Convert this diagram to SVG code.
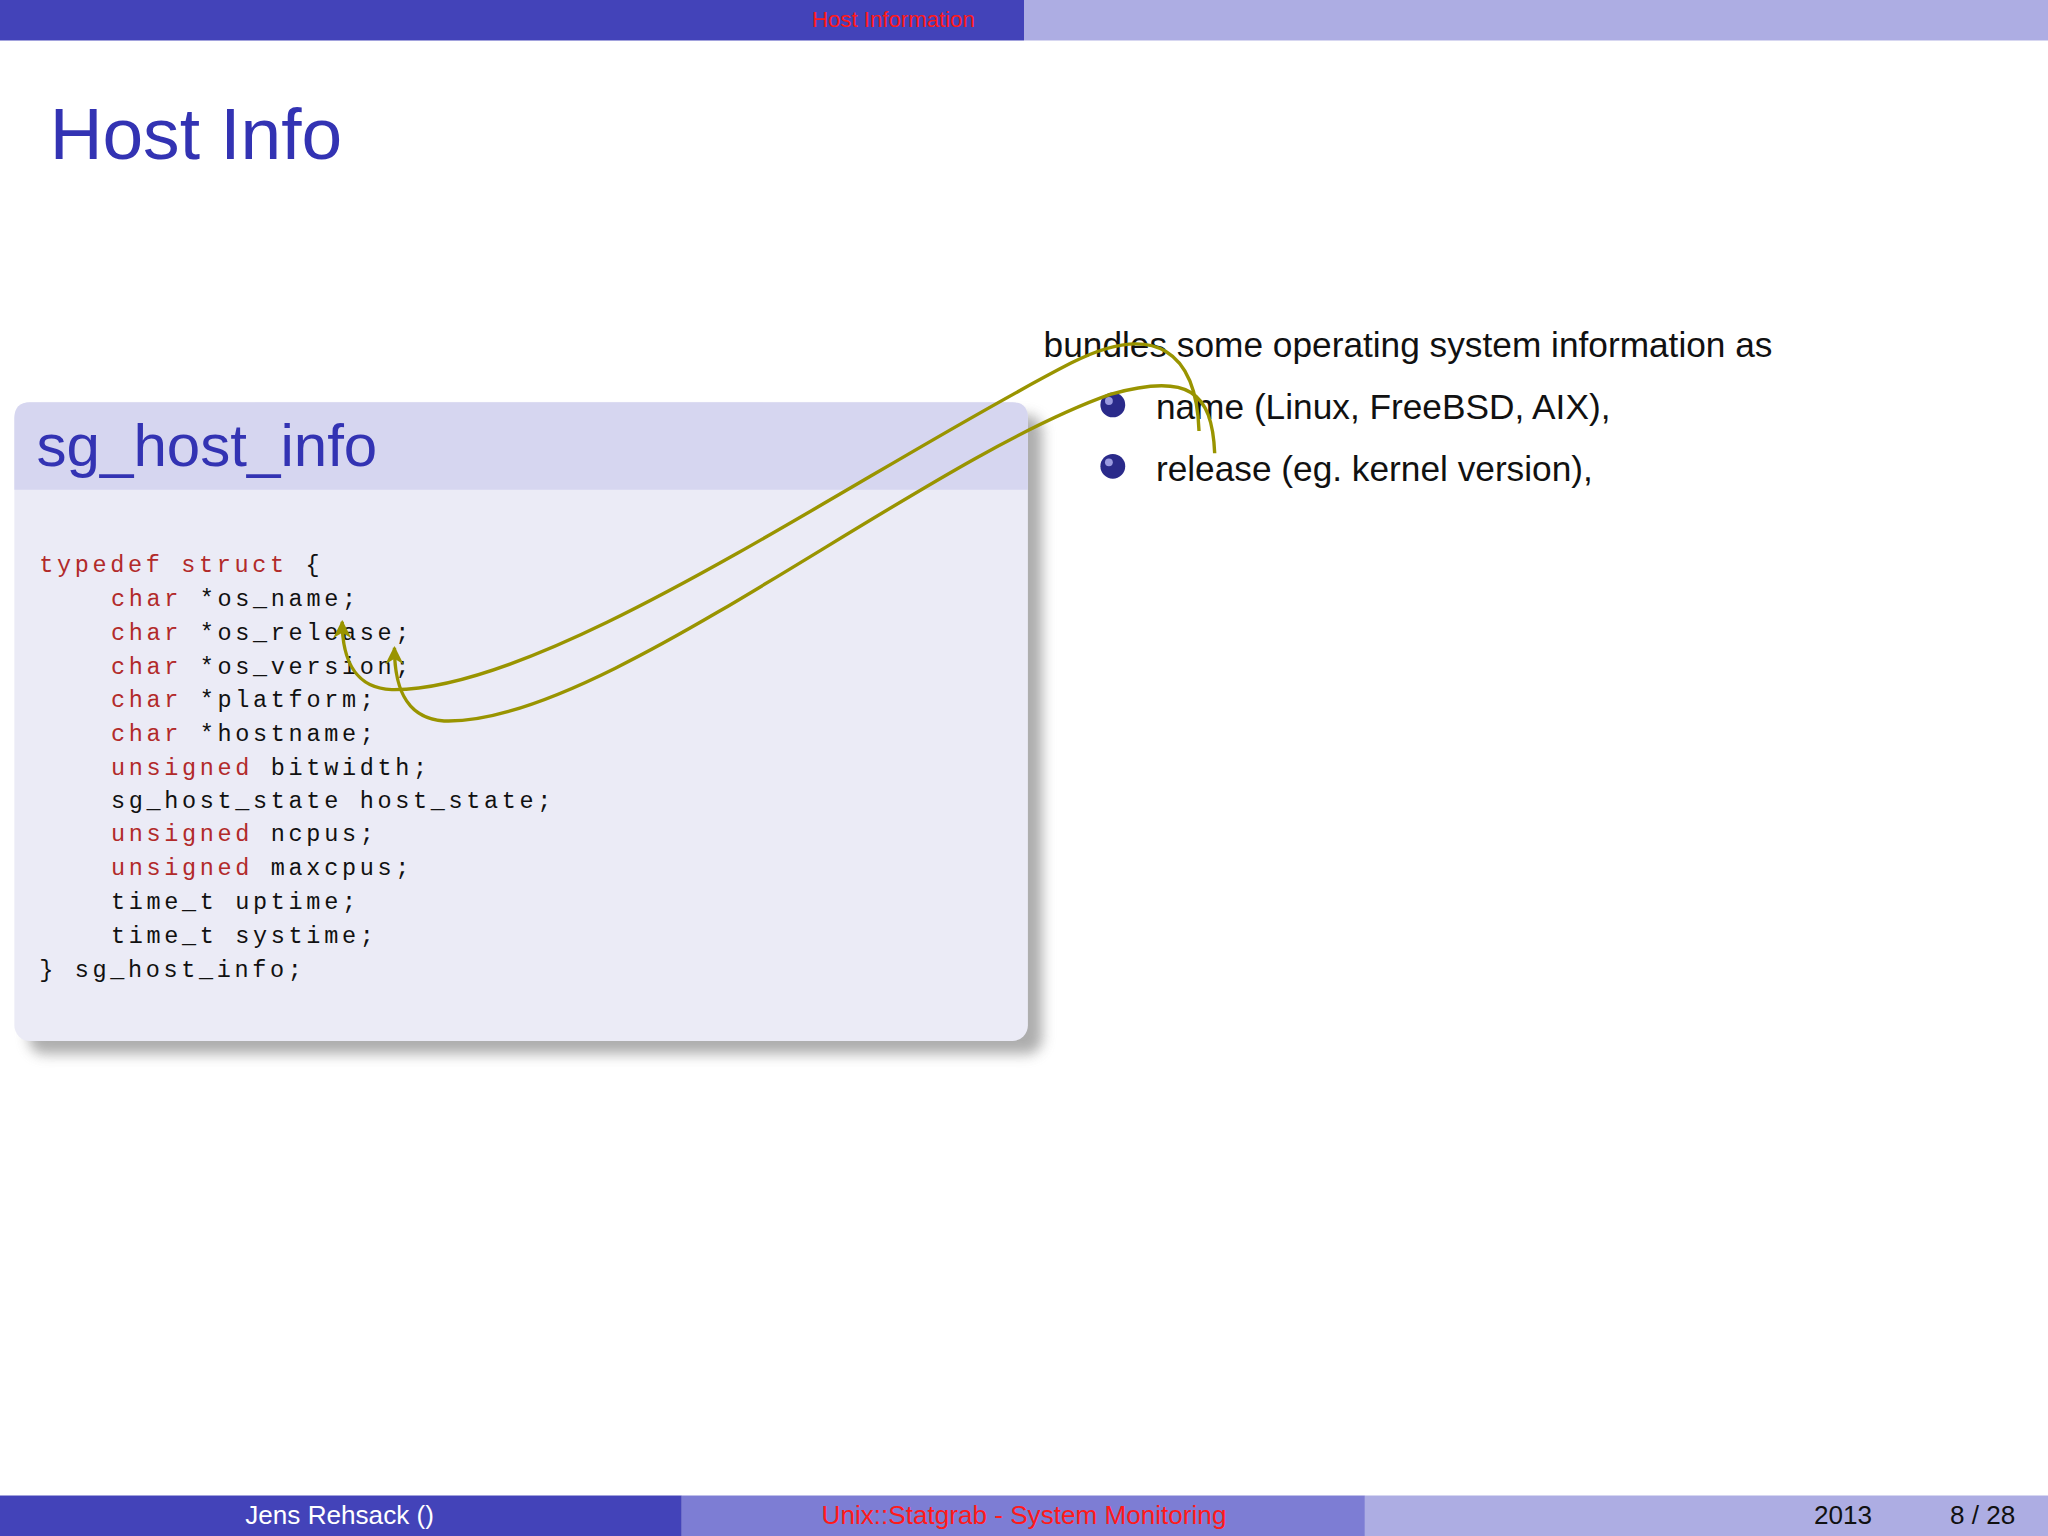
<svg xmlns="http://www.w3.org/2000/svg" width="2048" height="1536" viewBox="0 0 2048 1536">
<defs>
<style>
.ss{font-family:"Liberation Sans","DejaVu Sans",sans-serif}
.code{font-family:"Liberation Mono","DejaVu Sans Mono",monospace;font-size:18px;letter-spacing:2.8px;fill:#111}
.kw{fill:#b22a2a}
.con{fill:none;stroke:#999400;stroke-width:2.6}
</style>
<marker id="ah" viewBox="0 0 10 10" refX="9" refY="5" markerWidth="6" markerHeight="6" orient="auto-start-reverse" markerUnits="userSpaceOnUse">
<path d="M0,0 L10,5 L0,10 L3,5 Z" fill="#999400"/>
</marker>
<marker id="ah2" viewBox="0 0 10 10" refX="9" refY="5" markerWidth="14" markerHeight="14" orient="auto" markerUnits="userSpaceOnUse">
<path d="M0,0 L10,5 L0,10 L3,5 Z" fill="#999400"/>
</marker>
<filter id="sh" x="-5%" y="-5%" width="115%" height="115%"><feGaussianBlur stdDeviation="5"/></filter>
</defs>
<rect width="2048" height="1536" fill="#fff"/>
<g transform="scale(1.30612)">
<g id="header">
<rect x="0" y="0" width="784" height="31" fill="#4343b9"/>
<rect x="784" y="0" width="784" height="31" fill="#adade3"/>
<text x="684" y="21" text-anchor="middle" class="ss" font-size="17" fill="#ff1a1a">Host Information</text>
</g>
<text id="title" x="38" y="122" class="ss" font-size="56" fill="#3333b3">Host Info</text>
<g id="box">
<rect x="22" y="318" width="776" height="489" rx="12" fill="#777" opacity="0.6" filter="url(#sh)"/>
<rect x="11" y="308" width="776" height="489" rx="12" fill="#ebebf6"/>
<path d="M11 375 V320 Q11 308 23 308 H775 Q787 308 787 320 V375 Z" fill="#d6d6f0"/>
<text x="28" y="357" class="ss" font-size="46" fill="#3333b3">sg_host_info</text>
<text class="code" x="30" y="438"><tspan class="kw">typedef</tspan> <tspan class="kw">struct</tspan> {</text>
<text class="code" x="85" y="464"><tspan class="kw">char</tspan> *os_name;</text>
<text class="code" x="85" y="490"><tspan class="kw">char</tspan> *os_release;</text>
<text class="code" x="85" y="516"><tspan class="kw">char</tspan> *os_version;</text>
<text class="code" x="85" y="541"><tspan class="kw">char</tspan> *platform;</text>
<text class="code" x="85" y="567"><tspan class="kw">char</tspan> *hostname;</text>
<text class="code" x="85" y="593"><tspan class="kw">unsigned</tspan> bitwidth;</text>
<text class="code" x="85" y="619">sg_host_state host_state;</text>
<text class="code" x="85" y="644"><tspan class="kw">unsigned</tspan> ncpus;</text>
<text class="code" x="85" y="670"><tspan class="kw">unsigned</tspan> maxcpus;</text>
<text class="code" x="85" y="696">time_t uptime;</text>
<text class="code" x="85" y="722">time_t systime;</text>
<text class="code" x="30" y="748">} sg_host_info;</text>
</g>
<g id="bullets" class="ss" font-size="27" fill="#111">
<text x="799" y="273">bundles some operating system information as</text>
<circle cx="852" cy="310" r="9.5" fill="#2a2a8a"/>
<circle cx="849" cy="307" r="3" fill="#9a9ae0"/>
<text x="885" y="321">name (Linux, FreeBSD, AIX),</text>
<circle cx="852" cy="357" r="9.5" fill="#2a2a8a"/>
<circle cx="849" cy="354" r="3" fill="#9a9ae0"/>
<text x="885" y="368">release (eg. kernel version),</text>
</g>
<g id="connectors">
<path class="con" marker-end="url(#ah2)" d="M918 330 C916 270 885 245 820 278 C660 360 420 530 300 528 C272 527 262 505 262 476"/>
<path class="con" marker-end="url(#ah2)" d="M930 347 C928 300 910 285 850 302 C700 355 460 556 340 552 C308 550 302 522 302 496"/>
</g>
<g id="footer">
<rect x="0" y="1145" width="522" height="31" fill="#4343b9"/>
<rect x="522" y="1145" width="523" height="31" fill="#7d7dd4"/>
<rect x="1045" y="1145" width="523" height="31" fill="#adade3"/>
<g class="ss" font-size="20">
<text x="260" y="1167" text-anchor="middle" fill="#fff">Jens Rehsack  ()</text>
<text x="784" y="1167" text-anchor="middle" fill="#ff1a1a">Unix::Statgrab - System Monitoring</text>
<text x="1411" y="1167" text-anchor="middle" fill="#111">2013</text>
<text x="1518" y="1167" text-anchor="middle" fill="#111">8 / 28</text>
</g>
</g>
</g>
</svg>
